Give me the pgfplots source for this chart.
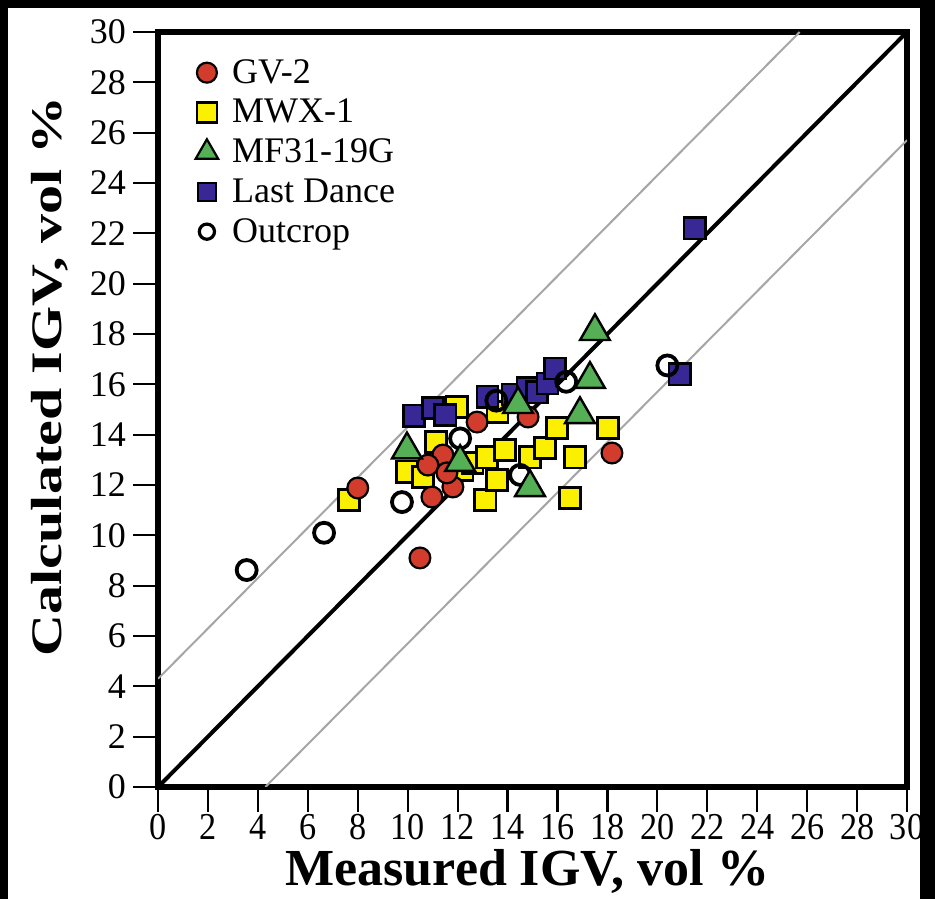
\documentclass[border=0pt]{standalone}
\usepackage{fontspec}
\setmainfont{Liberation Serif}
\usepackage{pgfplots}
\pgfplotsset{compat=1.18}
\usetikzlibrary{backgrounds}

\definecolor{gvred}{RGB}{210,60,45}
\definecolor{mwxyellow}{RGB}{250,240,0}
\definecolor{mfgreen}{RGB}{85,175,85}
\definecolor{ldblue}{RGB}{55,40,150}

\pgfplotstableread{
x y
8.00 11.88
10.49 9.10
10.97 11.52
11.81 11.92
11.41 13.19
10.81 12.79
11.57 12.48
12.78 14.50
14.82 14.70
18.18 13.27
}\gvtwo

\pgfplotstableread{
x y
7.65 11.40
9.97 12.52
10.61 12.32
11.13 13.71
11.97 15.10
12.20 12.60
12.60 12.87
13.18 13.10
13.10 11.40
13.58 12.20
13.60 14.90
13.90 13.39
14.90 13.10
15.50 13.47
15.98 14.26
16.70 13.10
16.50 11.48
18.02 14.26
}\mwx

\pgfplotstableread{
x y
9.97 13.40
12.10 12.90
14.42 15.20
14.90 11.90
16.90 14.80
17.30 16.20
17.50 18.10
}\mfg

\pgfplotstableread{
x y
10.25 14.75
11.01 15.06
11.50 14.78
13.20 15.50
14.20 15.60
14.80 15.85
15.18 15.69
15.60 16.03
15.90 16.62
20.90 16.40
21.50 22.20
}\lastdance

\pgfplotstableread{
x y
3.55 8.62
6.65 10.10
9.77 11.32
12.10 13.85
13.55 15.35
14.50 12.40
16.35 16.10
20.40 16.75
}\outcrop

\begin{document}
\begin{tikzpicture}
\begin{axis}[
    scale only axis,
    width=374.5pt,
    height=377.5pt,
    xmin=0, xmax=30,
    ymin=0, ymax=30,
    xtick={0,2,...,30},
    ytick={0,2,...,30},
    xtick pos=left,
    ytick pos=left,
    tick align=outside,
    major tick length=12.5pt,
    tick style={black, line width=1.1pt},
    axis line style={line width=2.6pt},
    /pgf/number format/assume math mode=true,
    yticklabel style={font=\fontsize{18}{20}\selectfont},
    xticklabel style={font=\fontsize{19}{21}\selectfont, inner sep=1pt},
    xticklabel={\scalebox{0.9}[1]{\pgfmathprintnumber{\tick}}},
    xlabel={\textbf{Measured IGV, vol \%}},
    ylabel={\scalebox{1}[0.75]{\textbf{Calculated IGV, vol \%}}},
    xlabel style={font=\fontsize{26}{28}\selectfont, at={(axis description cs:0.493,-0.112)}, anchor=center},
    ylabel style={font=\fontsize{29}{31}\selectfont, at={(axis description cs:-0.144,0.544)}, anchor=center},
    legend style={at={(axis cs:1.25,29.25)}, anchor=north west, draw=none, fill=none,
        font=\fontsize{18}{20}\selectfont, row sep=2.5pt,
        /tikz/every odd column/.append style={column sep=5pt}},
    legend cell align=left,
]
% reference lines
\addplot[gray!70, line width=1pt, forget plot] coordinates {(0,4.3) (25.7,30)};
\addplot[gray!70, line width=1pt, forget plot] coordinates {(4.3,0) (30,25.7)};
\addplot[black, line width=2pt, forget plot] coordinates {(0,0) (30,30)};

\addplot[only marks, mark=square*, mark size=5.3pt, forget plot,
    mark options={fill=mwxyellow, draw=black, line width=1.2pt}] table {\mwx};
\addplot[only marks, mark=*, mark size=5.2pt, forget plot,
    mark options={fill=gvred, draw=black, line width=1.1pt}] table {\gvtwo};
\addplot[only marks, mark=square*, mark size=5.3pt, forget plot,
    mark options={fill=ldblue, draw=black, line width=1.2pt}] table {\lastdance};
\addplot[only marks, mark=o, mark size=5pt, forget plot,
    mark options={draw=black, fill=white, line width=1.9pt}] table {\outcrop};
\addplot[only marks, mark=triangle*, mark size=8.6pt, forget plot,
    mark options={fill=mfgreen, draw=black, line width=1.2pt}] table {\mfg};

\addlegendimage{only marks, mark=*, mark size=5pt, mark options={fill=gvred, draw=black, line width=1.1pt}}
\addlegendentry{GV-2}
\addlegendimage{only marks, mark=square*, mark size=5pt, mark options={fill=mwxyellow, draw=black, line width=1.3pt}}
\addlegendentry{MWX-1}
\addlegendimage{only marks, mark=triangle*, mark size=6.5pt, mark options={fill=mfgreen, draw=black, line width=1.1pt}}
\addlegendentry{MF31-19G}
\addlegendimage{only marks, mark=square*, mark size=4.5pt, mark options={fill=ldblue, draw=black, line width=1.2pt}}
\addlegendentry{Last Dance}
\addlegendimage{only marks, mark=o, mark size=3.8pt, mark options={draw=black, line width=1.6pt}}
\addlegendentry{Outcrop}

\coordinate (imgSW) at (axis cs:-6.33,-4.45);
\coordinate (imgNE) at (axis cs:31.12,31.27);
\coordinate (inSW) at (axis cs:-6.01,-5.0);
\coordinate (inNE) at (axis cs:30.52,30.95);
\end{axis}
\begin{scope}[on background layer]
\fill[black] (imgSW) rectangle (imgNE);
\fill[white] (inSW) rectangle (inNE);
\end{scope}
\pgfresetboundingbox
\path[use as bounding box] (imgSW) rectangle (imgNE);
\end{tikzpicture}
\end{document}
